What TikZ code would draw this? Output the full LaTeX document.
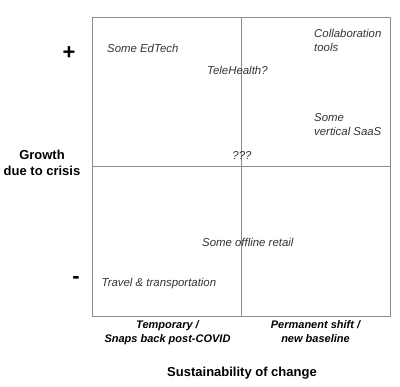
\documentclass[tikz,border=0pt]{standalone}
\usepackage{fontspec}
\setmainfont{Liberation Sans}
\begin{document}
\begin{tikzpicture}[x=1pt,y=-1pt,
  grid/.style={draw=black!45,line width=0.8pt},
  item/.style={inner sep=0pt,anchor=base west,text=black!80,font=\fontsize{11.4}{13}\selectfont\itshape},
  axis/.style={inner sep=0pt,anchor=base,text=black,font=\fontsize{11}{13}\selectfont\bfseries\itshape},
  title/.style={inner sep=0pt,anchor=base,text=black,font=\fontsize{13}{15}\selectfont\bfseries},
  sign/.style={inner sep=0pt,anchor=center,text=black,font=\fontsize{22}{24}\selectfont\bfseries}]
\useasboundingbox (0,0) rectangle (400,387);
\coordinate (tl) at (92,17);
\coordinate (br) at (390,316);
\coordinate (vt) at (241,17);
\coordinate (vb) at (241,316);
\coordinate (hl) at (92,166);
\coordinate (hr) at (390,166);
\draw[grid] (tl) rectangle (br);
\draw[grid] (vt) -- (vb);
\draw[grid] (hl) -- (hr);
\node[sign] (plus) at (69,53) {+};
\node[sign] (minus) at (76,280) {-};
\node[title] (g1) at (42,160) {Growth};
\node[title] (g2) at (42,176) {due to crisis};
\node[item] (edtech) at (107,53) {Some EdTech};
\node[item] (col1) at (314,37.5) {Collaboration};
\node[item] (col2) at (314,52) {tools};
\node[item] (tele) at (207,75) {TeleHealth?};
\node[item] (saas1) at (314,122) {Some};
\node[item] (saas2) at (314,136) {vertical SaaS};
\node[item,anchor=base] (qqq) at (242,160) {???};
\node[item] (retail) at (202,247) {Some offline retail};
\node[item] (travel) at (101.5,287) {Travel \& transportation};
\node[axis] (t1) at (167.5,329) {Temporary /};
\node[axis] (t2) at (167.5,342.5) {Snaps back post-COVID};
\node[axis] (p1) at (315.5,329) {Permanent shift /};
\node[axis] (p2) at (315.5,342.5) {new baseline};
\node[title] (sus) at (242,376.5) {Sustainability of change};
\end{tikzpicture}
\end{document}
